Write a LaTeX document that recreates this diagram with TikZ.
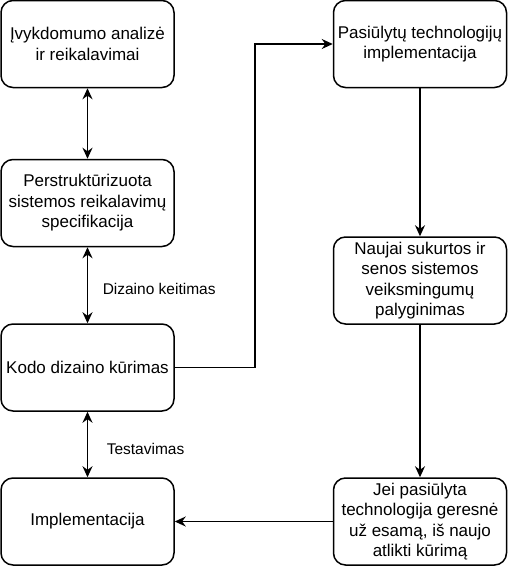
\documentclass[tikz,border=0pt]{standalone}
\usepackage{fontspec}
\setmainfont{Liberation Sans}
\usetikzlibrary{arrows.meta}
\begin{document}
\begin{tikzpicture}[x=1pt,y=-1pt,
  box/.style={draw, line width=1.5pt, rounded corners=12pt, minimum width=173pt, minimum height=87pt,
    align=center, inner sep=1pt, font=\fontsize{17}{20.5}\selectfont},
  conn/.style={line width=1.5pt, -{Stealth[length=11pt,width=10pt]}},
  both/.style={line width=1.5pt, {Stealth[length=11pt,width=10pt]}-{Stealth[length=11pt,width=10pt]}},
  lbl/.style={font=\fontsize{15.5}{18}\selectfont, inner sep=0pt, anchor=west}]
\useasboundingbox (0,0) rectangle (508,566);
\node[box] (a) at (87.5,44) {Įvykdomumo analizė\\ir reikalavimai};
\node[box] (b) at (87.5,203) {Perstruktūrizuota\\sistemos reikalavimų\\specifikacija};
\node[box] (c) at (87.5,367.5) {Kodo dizaino kūrimas};
\node[box] (d) at (87.5,521.5) {Implementacija};
\node[box] (r1) at (420,44) {Pasiūlytų technologijų\\implementacija};
\node[box] (r2) at (420,280.5) {Naujai sukurtos ir\\senos sistemos\\veiksmingumų\\palyginimas};
\node[box] (r3) at (420,521.5) {Jei pasiūlyta\\technologija geresnė\\už esamą, iš naujo\\atlikti kūrimą};
\draw[both] (a) -- (b);
\draw[both] (b) -- (c) node[lbl, pos=0.545, xshift=14.5pt] (l1) {Dizaino keitimas};
\draw[both] (c) -- (d) node[lbl, pos=0.567, xshift=18.5pt] (l2) {Testavimas};
\draw[conn] (c.east) -- ++(80,0) |- (r1.west);
\draw[conn] (r1) -- (r2);
\draw[conn] (r2) -- (r3);
\draw[conn] (r3) -- (d);
\end{tikzpicture}
\end{document}
